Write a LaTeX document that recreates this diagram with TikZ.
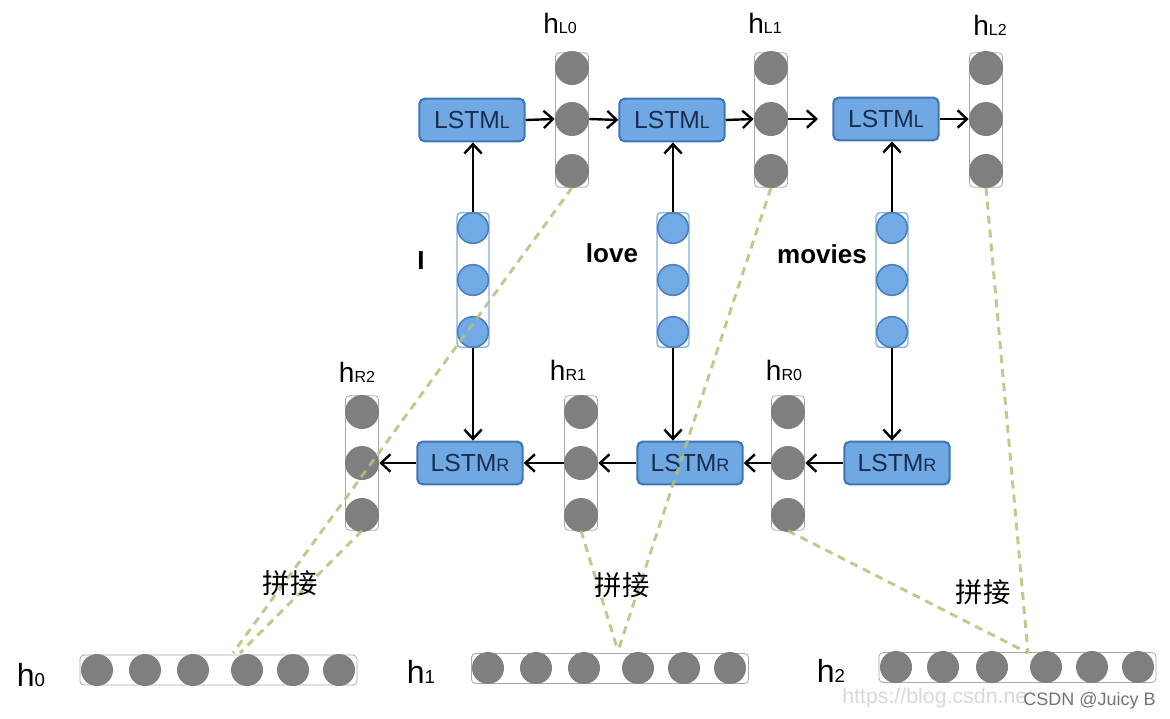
\documentclass[tikz,border=0pt]{standalone}
\usepackage{fontspec}
\setmainfont{Liberation Sans}
\newfontfamily\cjk{Noto Sans CJK SC}
\usetikzlibrary{arrows.meta}

\definecolor{boxfill}{HTML}{6FA8E2}
\definecolor{boxedge}{HTML}{3F77B6}
\definecolor{boxtext}{HTML}{1B2D4F}
\definecolor{cellgray}{HTML}{7F7F7F}
\definecolor{framegray}{HTML}{A8A8A8}
\definecolor{embfill}{HTML}{72AAE6}
\definecolor{embedge}{HTML}{4C7FBE}
\definecolor{embframe}{HTML}{86B2E4}
\definecolor{linkgreen}{HTML}{B2C27A}

% small index set on the baseline, used in the labels
\newcommand\idx[2]{{\fontsize{#1}{#1}\selectfont #2}}

\begin{document}
\begin{tikzpicture}[x=0.75pt,y=-0.75pt,
  lstm/.style={draw=boxedge, fill=boxfill, line width=1.6pt, rounded corners=4pt,
    minimum width=79pt, minimum height=32pt, inner sep=0pt, text=boxtext,
    font=\fontsize{18.5}{20}\selectfont},
  cell/.style={circle, fill=cellgray, minimum size=25.5pt, inner sep=0pt},
  rowcell/.style={circle, fill=cellgray, minimum size=24pt, inner sep=0pt},
  ecell/.style={circle, fill=embfill, draw=embedge, line width=1.2pt, minimum size=23pt, inner sep=0pt},
  colframe/.style={draw=framegray, line width=0.6pt, rounded corners=3pt,
    minimum width=24.75pt, minimum height=101pt, inner sep=0pt},
  eframe/.style={draw=embframe, line width=1pt, rounded corners=3pt,
    minimum width=24pt, minimum height=101pt, inner sep=0pt},
  rowframe/.style={draw=framegray, line width=0.6pt, rounded corners=3pt,
    minimum width=207.75pt, minimum height=22.5pt, inner sep=0pt},
  arr/.style={line width=1.8pt, -{Straight Barb[length=7pt,width=13pt]}},
  catlink/.style={draw=linkgreen, line width=2.2pt, dash pattern=on 6pt off 4.5pt, opacity=0.85},
  hlab/.style={anchor=base, inner sep=0pt, font=\fontsize{21}{22}\selectfont},
  blab/.style={anchor=base, inner sep=0pt, font=\fontsize{24}{26}\selectfont},
  word/.style={anchor=base, inner sep=0pt, font=\bfseries\fontsize{19.5}{21}\selectfont},
  cat/.style={inner sep=0pt, font=\cjk\fontsize{20.5}{22}\selectfont},
]
\useasboundingbox (0,0) rectangle (1170,718);
\fill[white] (0,0) rectangle (1170,718);

% forward LSTM cells
\node[lstm] (lL1) at (472,120) {LSTM\idx{13.5}{L}};
\node[lstm] (lL2) at (672,120) {LSTM\idx{13.5}{L}};
\node[lstm] (lL3) at (886,119) {LSTM\idx{13.5}{L}};

% backward LSTM cells
\node[lstm] (lR1) at (470,463) {LSTM\idx{13.5}{R}};
\node[lstm] (lR2) at (690,463) {LSTM\idx{13.5}{R}};
\node[lstm] (lR3) at (897,463) {LSTM\idx{13.5}{R}};

% forward hidden states
\foreach \n/\x in {hL0/572,hL1/771,hL2/986} {
  \node[colframe] (\n) at (\x,120) {};
  \foreach \k/\y in {1/68,2/119,3/171}
    \node[cell] (\n-\k) at (\x,\y) {};
}

% backward hidden states
\foreach \n/\x in {hR2/362,hR1/581,hR0/788} {
  \node[colframe] (\n) at (\x,463) {};
  \foreach \k/\y in {1/412,2/463,3/515}
    \node[cell] (\n-\k) at (\x,\y) {};
}

% word embeddings
\foreach \n/\x in {w1/473,w2/673,w3/892} {
  \node[eframe] (\n) at (\x,280) {};
  \foreach \k/\y in {1/228,2/280,3/332}
    \node[ecell] (\n-\k) at (\x,\y) {};
}

% concatenated outputs
\node[rowframe] (h0) at (218.5,670) {};
\foreach \k/\x in {1/97,2/145,3/193,4/247,5/293,6/339}
  \node[rowcell] (h0-\k) at (\x,670) {};
\node[rowframe] (h1) at (610,668.5) {};
\foreach \k/\x in {1/488,2/536,3/584,4/638,5/684,6/730}
  \node[rowcell] (h1-\k) at (\x,668) {};
\node[rowframe] (h2) at (1017.5,667.5) {};
\foreach \k/\x in {1/896,2/943,3/992,4/1046,5/1092,6/1138}
  \node[rowcell] (h2-\k) at (\x,667) {};

% labels
\node[hlab] (thL0) at (560,33) {h\idx{12}{L0}};
\node[hlab] (thL1) at (765,33) {h\idx{12}{L1}};
\node[hlab] (thL2) at (990,35) {h\idx{12}{L2}};
\node[hlab] (thR2) at (357,382) {h\idx{12}{R2}};
\node[hlab] (thR1) at (568,380) {h\idx{12}{R1}};
\node[hlab] (thR0) at (784,380) {h\idx{12}{R0}};
\node[blab] (th0) at (31,686) {h\idx{14}{0}};
\node[blab] (th1) at (421,683) {h\idx{14}{1}};
\node[blab] (th2) at (831,682) {h\idx{14}{2}};

\node[word] (tw1) at (421,269) {I};
\node[word] (tw2) at (612,262) {love};
\node[word] (tw3) at (822,263) {movies};

% forward chain
\coordinate (fe) at (818,119);
\draw[arr] (lL1.east) -- (hL0-2.west);
\draw[arr] (hL0-2.east) -- (lL2.west);
\draw[arr] (lL2.east) -- (hL1-2.west);
\draw[arr] (hL1-2.east) -- (fe);
\draw[arr] (lL3.east) -- (hL2-2.west);

% backward chain
\draw[arr] (lR3.west) -- (hR0-2.east);
\draw[arr] (hR0-2.west) -- (lR2.east);
\draw[arr] (lR2.west) -- (hR1-2.east);
\draw[arr] (hR1-2.west) -- (lR1.east);
\draw[arr] (lR1.west) -- (hR2-2.east);

% inputs feeding both directions
\foreach \w/\u/\d in {w1/lL1/lR1,w2/lL2/lR2,w3/lL3/lR3} {
  \draw[arr] (\w.north) -- (\w.north |- \u.south);
  \draw[arr] (\w.south) -- (\w.south |- \d.north);
}

% concatenation links
\coordinate (j0a) at (233,653);
\coordinate (j0b) at (240,653);
\coordinate (j1) at (618,651);
\coordinate (j2) at (1028,653);
\draw[catlink] (hL0.south) -- (j0a);
\draw[catlink] (hR2.south) -- (j0b);
\draw[catlink] (hL1.south) -- (j1);
\draw[catlink] (hR1.south) -- (j1);
\draw[catlink] (hR0.south) -- (j2);
\draw[catlink] (hL2.south) -- (j2);

\node[cat] (c0) at (290,583) {拼接};
\node[cat] (c1) at (622,585) {拼接};
\node[cat] (c2) at (983,592) {拼接};

% source marks
\node[anchor=base west, inner sep=0pt, text=black!15, font=\fontsize{16}{18}\selectfont] (url) at (842,703) {https://blog.csdn.ne};
\node[anchor=base east, inner sep=0pt, text=black!55, font=\fontsize{13.5}{15}\selectfont] (mark) at (1156,705) {CSDN @Juicy B};
\end{tikzpicture}
\end{document}
